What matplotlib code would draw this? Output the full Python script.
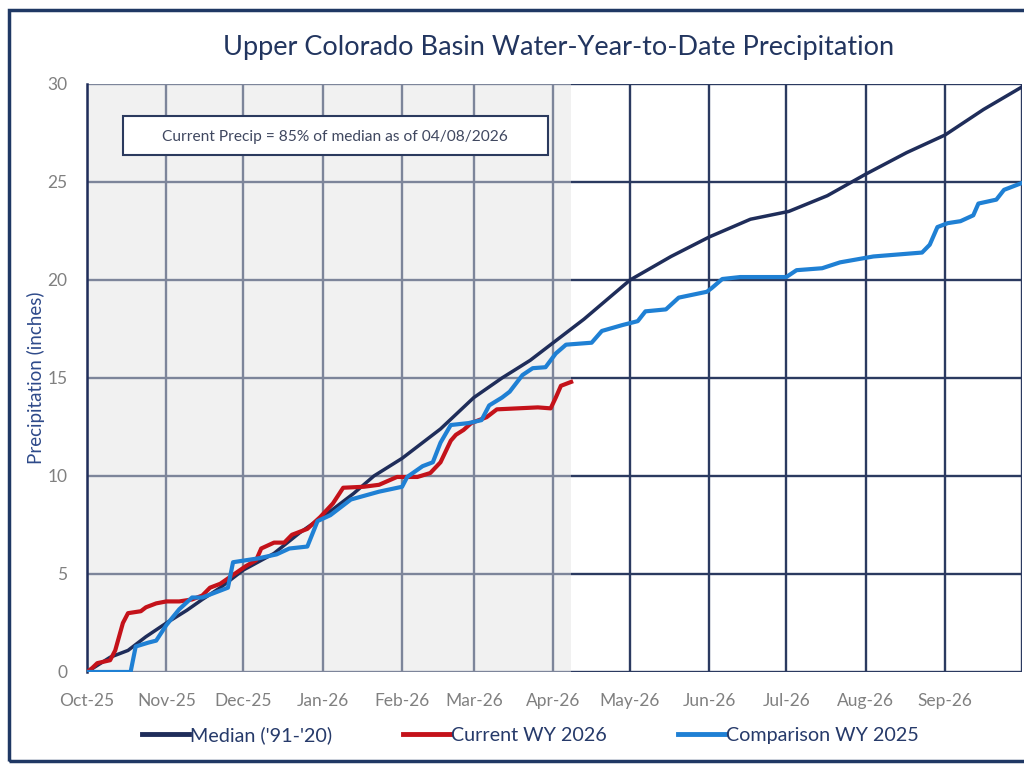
import numpy as np
import matplotlib
matplotlib.use("Agg")
import matplotlib.pyplot as plt
import matplotlib.dates as mdates
from matplotlib.patches import Rectangle

plt.rcParams['font.family'] = ['Lato', 'DejaVu Sans']

# days after 2025-10-01, and accumulated precipitation (inches)
median_days = [0, 9, 16, 23, 31, 39, 45, 52, 61, 73, 83, 94, 104, 112, 123, 129, 138,
               151, 162, 173, 182, 194, 212, 228, 243, 259, 274, 289, 304, 320, 335, 350, 365]
median_vals = [0, 0.75, 1.1, 1.8, 2.5, 3.15, 3.7, 4.3, 5.2, 6.05, 7.1, 8.1, 9.1, 10.0, 10.9, 11.5, 12.4,
               14.0, 15.0, 15.9, 16.8, 18.0, 20.0, 21.2, 22.2, 23.1, 23.5, 24.3, 25.4, 26.5, 27.4, 28.7, 29.85]

current_days = [0, 2, 4, 9, 11, 14, 16, 21, 23, 27, 31, 36, 41, 45, 48, 52, 57, 62, 66, 68,
                73, 77, 80, 86, 91, 96, 100, 108, 114, 121, 129, 134, 138, 142, 144, 147, 150,
                156, 160, 168, 176, 181, 183, 185, 189]
current_vals = [0, 0.2, 0.45, 0.6, 1.1, 2.5, 3.0, 3.1, 3.3, 3.5, 3.6, 3.6, 3.7, 3.9, 4.3, 4.5, 4.95, 5.4, 5.7, 6.3,
                6.6, 6.6, 7.0, 7.3, 7.9, 8.6, 9.4, 9.45, 9.55, 9.95, 9.95, 10.15, 10.7, 11.8, 12.1, 12.35, 12.7,
                13.0, 13.4, 13.45, 13.5, 13.45, 14.0, 14.6, 14.8]

comp_days = [0, 17, 19, 24, 27, 31, 36, 41, 45, 51, 55, 57, 62, 67, 74, 79, 86, 90, 95, 103,
             114, 123, 125, 131, 135, 138, 142, 149, 154, 157, 162, 165, 170, 174, 179, 183, 187,
             197, 201, 209, 215, 218, 226, 231, 242, 244, 248, 255, 273, 277, 287, 294, 307, 326,
             329, 332, 336, 341, 346, 348, 355, 358, 365]
comp_vals = [0, 0, 1.3, 1.5, 1.6, 2.4, 3.2, 3.8, 3.8, 4.1, 4.3, 5.6, 5.7, 5.8, 6.0, 6.3, 6.4, 7.7, 8.0, 8.8,
             9.2, 9.45, 9.95, 10.5, 10.7, 11.7, 12.6, 12.7, 12.85, 13.6, 14.0, 14.3, 15.15, 15.5, 15.55, 16.25, 16.7,
             16.8, 17.4, 17.7, 17.9, 18.4, 18.5, 19.1, 19.4, 19.6, 20.05, 20.15, 20.15, 20.5, 20.6, 20.9, 21.2, 21.4,
             21.8, 22.7, 22.9, 23.0, 23.3, 23.9, 24.1, 24.6, 24.95]

start = np.datetime64('2025-10-01')
end = np.datetime64('2026-10-01')
as_of = np.datetime64('2026-04-08')

def to_dates(days):
    return (start + np.array(days, dtype='timedelta64[D]')).astype('datetime64[D]').astype(object)

navy = '#1f2d5a'
red = '#c4121a'
blue = '#1f80d4'
grid_c = '#2b3a60'

fig = plt.figure(figsize=(10.24, 7.65), dpi=100)
ax = fig.add_axes([0.085, 0.1216, 0.913, 0.7686])

ax.plot(to_dates(median_days), median_vals, color=navy, lw=2.5, zorder=3, label="Median ('91-'20)")
ax.plot(to_dates(current_days), current_vals, color=red, lw=3.0, zorder=4, label='Current WY 2026')
ax.plot(to_dates(comp_days), comp_vals, color=blue, lw=3.0, zorder=5, label='Comparison WY 2025')

ax.axvspan(start.astype(object), as_of.astype(object), color='#e2e2e2', alpha=0.45, lw=0, zorder=2)

ax.set_xlim(start.astype(object), end.astype(object))
ax.set_ylim(0, 30)
ax.set_yticks(range(0, 31, 5))
months = np.arange(np.datetime64('2025-10'), np.datetime64('2026-11'), dtype='datetime64[M]')
ax.set_xticks(months.astype('datetime64[D]').astype(object))
ax.xaxis.set_major_formatter(mdates.DateFormatter('%b-%y'))
labels = ax.get_xticklabels()
ax.set_xticklabels([l.get_text() for l in labels[:-1]] + [''])

ax.grid(True, color=grid_c, lw=1.7, zorder=1)
ax.set_axisbelow(True)
for s in ['top', 'right', 'bottom']:
    ax.spines[s].set_visible(False)
ax.spines['left'].set_color(navy)
ax.spines['left'].set_linewidth(1.8)
ax.tick_params(length=0, labelcolor='#808080', labelsize=12.5)
ax.tick_params(axis='x', pad=15)
ax.tick_params(axis='y', pad=14)

ax.set_ylabel('Precipitation (inches)', color='#2e4a8a', fontsize=13.5, labelpad=2)

fig.text(0.545, 0.938, 'Upper Colorado Basin Water-Year-to-Date Precipitation',
         ha='center', va='center', fontsize=19.5, color='#22355f')

fig.text(335 / 1024, 1 - 137 / 765, 'Current Precip = 85% of median as of 04/08/2026',
         ha='center', va='center', fontsize=11.2, color='#404860', zorder=10)
fig.patches.append(Rectangle((123 / 1024, 1 - 155 / 765), 425 / 1024, 39 / 765,
                             transform=fig.transFigure, facecolor='white', edgecolor='#2b3a5e',
                             lw=1.5, zorder=9))

leg = fig.legend(loc='center', bbox_to_anchor=(0.518, 1 - 735 / 765), ncol=3, frameon=False,
                 fontsize=14.2, handlelength=2.4, handletextpad=0.05, columnspacing=3.6)
for t in leg.get_texts():
    t.set_color('#263a6a')
for h in leg.legend_handles:
    h.set_linewidth(3.5)

fig.patches.append(Rectangle((9 / 1024, 4 / 765), 1.2, 1 - 14 / 765, transform=fig.transFigure,
                             facecolor='none', edgecolor='#1f3864', lw=2.5, zorder=0))

fig.savefig('out.png', dpi=100)
